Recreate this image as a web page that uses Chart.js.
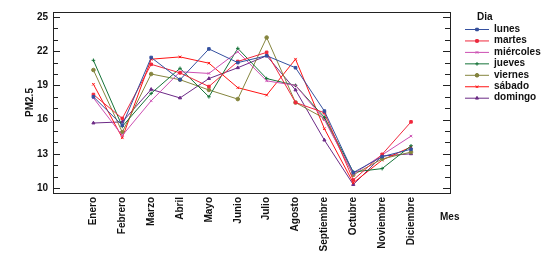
<!DOCTYPE html>
<html>
<head>
<meta charset="utf-8">
<script src="https://cdn.jsdelivr.net/npm/chart.js@4.4.1/dist/chart.umd.min.js"></script>
<style>
  html, body { margin: 0; padding: 0; background: #fff; }
  #wrap { width: 543px; height: 258px; }
</style>
</head>
<body>
<div id="wrap"><canvas id="chart"></canvas></div>
<script>
const months = ["Enero", "Febrero", "Marzo", "Abril", "Mayo", "Junio", "Julio",
  "Agosto", "Septiembre", "Octubre", "Noviembre", "Diciembre"];
const dayNames = ["lunes", "martes", "miércoles", "jueves", "viernes", "sábado", "domingo"];

const lunes = [18.0, 15.5, 21.45, 19.5, 22.2, 21.0, 21.6, 20.55, 16.75, 11.35, 12.75, 13.4];
const martes = [18.2, 16.1, 20.85, 20.1, 18.9, 21.1, 21.9, 17.5, 16.6, 10.7, 12.95, 15.8];
const miercoles = [17.9, 14.6, 17.65, 20.2, 20.05, 21.95, 19.4, 19.0, 16.0, 11.2, 12.9, 14.55];
const jueves = [21.2, 15.4, 18.3, 20.5, 18.0, 22.25, 19.6, 19.0, 16.2, 11.4, 11.7, 13.7];
const viernes = [20.35, 14.9, 20.0, 19.5, 18.6, 17.8, 23.2, 17.5, 16.1, 11.15, 12.55, 13.15];
const sabado = [19.1, 14.4, 21.3, 21.5, 20.95, 18.8, 18.15, 21.3, 15.2, 10.45, 12.45, 13.6];
const domingo = [15.7, 15.8, 18.65, 17.9, 19.6, 20.55, 21.6, 18.6, 14.2, 10.3, 12.8, 13.0];

const yTicks = [10, 11, 12, 13, 14, 15, 16, 17, 18, 19, 20, 21, 22, 23, 24, 25];
const yMajor = [10, 13, 16, 19, 22, 25];

const seriesValues = [lunes, martes, miercoles, jueves, viernes, sabado, domingo];
const colors = ["#34509f", "#f0283c", "#cc4fb2", "#157338", "#85853e", "#ff1414", "#6c2a86"];
const markers = ["rect", "rect", "crossRot", "cross", "circle", "crossRot", "triangle"];

const FONT = "'Liberation Sans', Arial, sans-serif";

const datasets = seriesValues.map((vals, i) => ({
  label: dayNames[i],
  data: vals.map((v, j) => ({ x: j, y: v })),
  borderColor: colors[i],
  backgroundColor: colors[i],
  borderWidth: 1,
  pointStyle: markers[i],
  pointRadius: 1.8,
  pointBorderWidth: 1,
  tension: 0,
}));

// frame, inward ticks, "Mes" and the legend
const decorPlugin = {
  id: "decor",
  afterDraw(chart) {
    const ctx = chart.ctx;
    const area = chart.chartArea;
    const y = chart.scales.y;
    ctx.save();
    ctx.strokeStyle = "#222";
    ctx.lineWidth = 1;
    ctx.strokeRect(area.left + 0.5, area.top + 0.5, area.right - area.left, area.bottom - area.top);
    y.ticks.forEach((t) => {
      const py = Math.round(y.getPixelForValue(t.value)) + 0.5;
      const len = yMajor.includes(t.value) ? 7 : 5;
      ctx.beginPath();
      ctx.moveTo(area.left, py);
      ctx.lineTo(area.left + len, py);
      ctx.moveTo(area.right, py);
      ctx.lineTo(area.right - len, py);
      ctx.stroke();
    });

    ctx.fillStyle = "#111";
    ctx.font = "bold 10px " + FONT;
    ctx.textBaseline = "middle";
    ctx.textAlign = "left";
    ctx.fillText("Mes", area.right - 10, 217);

    // legend
    const lx = area.right + 15;
    let ly = 29;
    ctx.fillText("Dia", lx + 12, 17);
    chart.data.datasets.forEach((ds) => {
      ctx.strokeStyle = ds.borderColor;
      ctx.beginPath();
      ctx.moveTo(lx, ly + 0.5);
      ctx.lineTo(lx + 24, ly + 0.5);
      ctx.stroke();
      Chart.helpers.drawPoint(ctx, {
        pointStyle: ds.pointStyle, radius: 1.8, borderWidth: 1, rotation: 0,
      }, lx + 12, ly + 0.5);
      ctx.fillStyle = ds.borderColor;
      ctx.fill();
      ctx.fillStyle = "#111";
      ctx.fillText(ds.label, lx + 29, ly);
      ly += 11.45;
    });
    ctx.restore();
  },
};

new Chart(document.getElementById("chart"), {
  type: "line",
  data: { datasets: datasets },
  options: {
    responsive: true,
    maintainAspectRatio: false,
    animation: false,
    layout: { padding: { top: 12, right: 93, left: 0, bottom: 0 } },
    plugins: {
      legend: { display: false },
      tooltip: { enabled: false },
    },
    scales: {
      x: {
        type: "linear",
        min: -1.4,
        max: 12.35,
        afterBuildTicks: (scale) => {
          scale.ticks = months.map((m, i) => ({ value: i }));
        },
        afterFit: (scale) => { scale.height = 65; },
        grid: { display: false, drawTicks: false },
        border: { display: false },
        ticks: {
          autoSkip: false,
          minRotation: 90,
          maxRotation: 90,
          padding: 4,
          color: "#111",
          font: { family: FONT, size: 10, weight: "bold" },
          callback: (v) => months[v],
        },
      },
      y: {
        min: 9.56,
        max: 25.44,
        afterBuildTicks: (scale) => {
          scale.ticks = yTicks.map((v) => ({ value: v }));
        },
        afterFit: (scale) => { scale.width = 53; },
        grid: { display: false, drawTicks: false },
        border: { display: false },
        title: {
          display: true,
          text: "PM2.5",
          color: "#111",
          font: { family: FONT, size: 10, weight: "bold" },
          padding: { top: 24, bottom: 0 },
        },
        ticks: {
          autoSkip: false,
          padding: 5,
          color: "#111",
          font: { family: FONT, size: 10, weight: "bold" },
          callback: (v) => (yMajor.includes(v) ? String(v) : ""),
        },
      },
    },
  },
  plugins: [decorPlugin],
});
</script>
</body>
</html>
